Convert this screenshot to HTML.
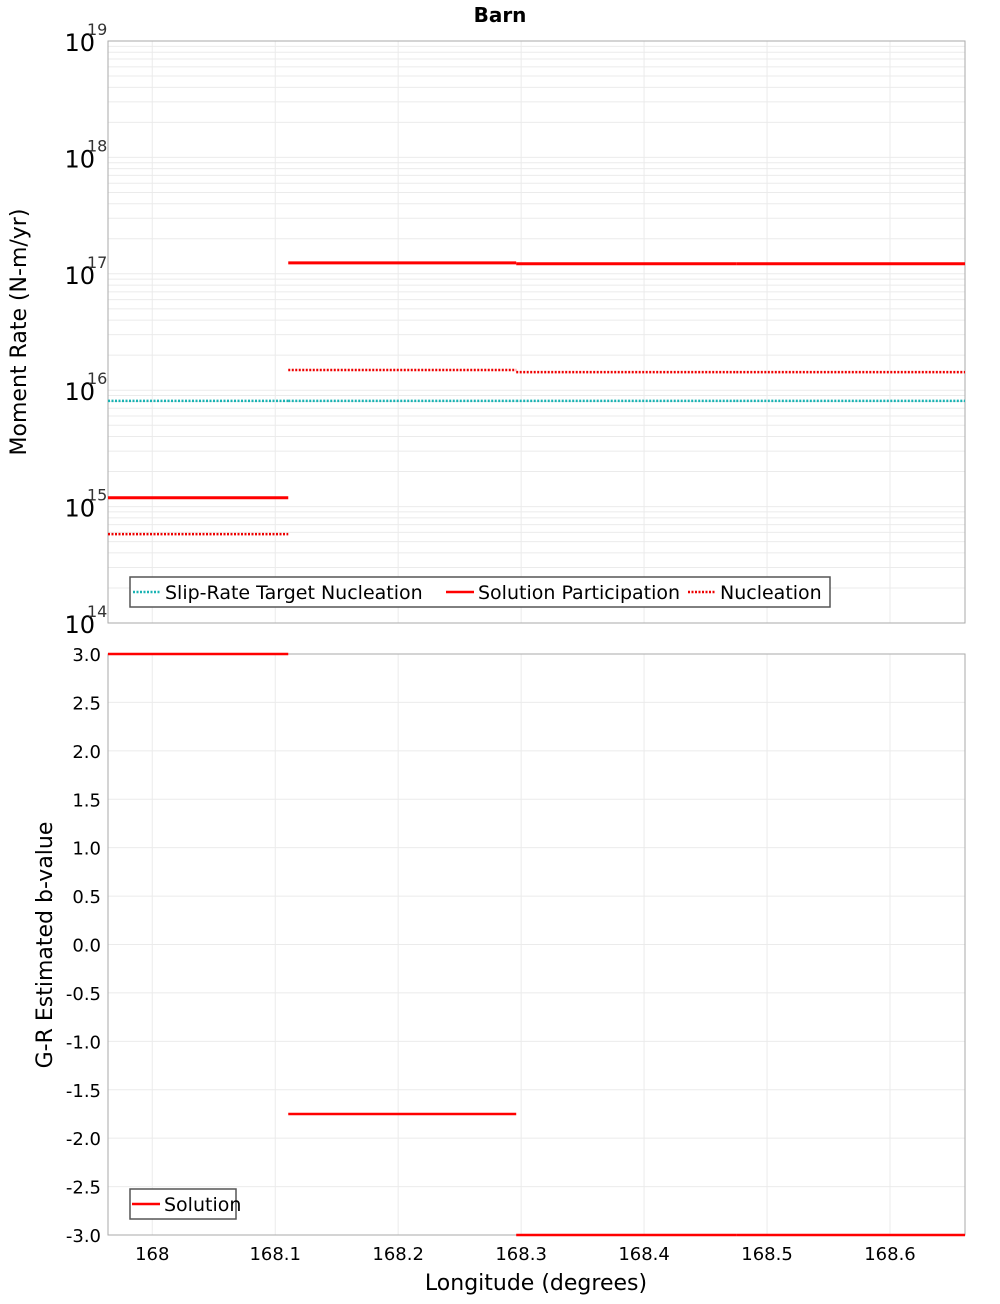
<!DOCTYPE html>
<html><head><meta charset="utf-8"><style>
body{margin:0;background:#fff;font-family:"DejaVu Sans","Liberation Sans",sans-serif;}
</style></head><body>
<svg id="chart" width="1000" height="1300" xmlns="http://www.w3.org/2000/svg" font-family="DejaVu Sans, Liberation Sans, sans-serif">
<text x="500" y="22" text-anchor="middle" font-size="20" font-weight="bold">Barn</text>
<g id="topPlot"></g>
<g id="botPlot"></g>
<text transform="translate(26,332) rotate(-90)" text-anchor="middle" font-size="22">Moment Rate (N-m/yr)</text>
<text transform="translate(52,945) rotate(-90)" text-anchor="middle" font-size="22">G-R Estimated b-value</text>
<text x="536" y="1290" text-anchor="middle" font-size="22">Longitude (degrees)</text>
</svg>
<script>
const segBounds = [167.964, 168.1106, 168.296, 168.475, 168.661];
const participation = [1.19e15, 1.24e17, 1.22e17, 1.22e17];
const nucleation = [5.8e14, 1.49e16, 1.43e16, 1.43e16];
const targetNucleation = [8.1e15, 8.1e15, 8.1e15, 8.1e15];
const bValues = [3.0, -1.75, -3.0, -3.0];
const xTicks = [168, 168.1, 168.2, 168.3, 168.4, 168.5, 168.6];
const xTickLabels = ["168","168.1","168.2","168.3","168.4","168.5","168.6"];
const logTicks = [14,15,16,17,18,19];
const bTicks = [3.0,2.5,2.0,1.5,1.0,0.5,0.0,-0.5,-1.0,-1.5,-2.0,-2.5,-3.0];

const NS="http://www.w3.org/2000/svg";
const L=108,R=965,T1=41,B1=623,T2=654,B2=1235;
const xmin=167.964,xmax=168.661;
const X=v=>L+(v-xmin)/(xmax-xmin)*(R-L);
const Y1=v=>B1-(Math.log10(v)-14)/5*(B1-T1);
const Y2=v=>B2-(v+3)/6*(B2-T2);
function mk(p,tag,a){const e=document.createElementNS(NS,tag);for(const k in a)e.setAttribute(k,a[k]);p.appendChild(e);return e;}
const gTop=document.getElementById('topPlot'),gBot=document.getElementById('botPlot');
for(let d=14;d<19;d++)for(let m=1;m<10;m++){const y=Y1(m*Math.pow(10,d));const g=mk(gTop,'line',{x1:L,x2:R,y1:y,y2:y,stroke:'#ebebeb','stroke-width':1});

}
for(const t of xTicks){for(const [p,a,b] of [[gTop,T1,B1],[gBot,T2,B2]]){const g=mk(p,'line',{x1:X(t),x2:X(t),y1:a,y2:b,stroke:'#ebebeb'});

}}
for(const t of bTicks){const g=mk(gBot,'line',{x1:L,x2:R,y1:Y2(t),y2:Y2(t),stroke:'#ebebeb'});

}
let f=mk(gTop,'rect',{x:L,y:T1,width:R-L,height:B1-T1,fill:'none',stroke:'#aaa'});


f=mk(gBot,'rect',{x:L,y:T2,width:R-L,height:B2-T2,fill:'none',stroke:'#aaa'});


for(const d of logTicks){const t=mk(gTop,'text',{x:95,y:Y1(Math.pow(10,d))+10,'text-anchor':'end','font-size':24});t.textContent='10';


const s=mk(gTop,'text',{x:87,y:Y1(Math.pow(10,d))-6,'font-size':16,fill:'#333'});s.textContent=String(d);

}
for(const v of bTicks){const t=mk(gBot,'text',{x:101,y:Y2(v)+7,'text-anchor':'end','font-size':18});t.textContent=v.toFixed(1);

}
xTicks.forEach((v,i)=>{const t=mk(gBot,'text',{x:X(v),y:1260,'text-anchor':'middle','font-size':18});t.textContent=xTickLabels[i];

});
function series(p,vals,Y,color,dash,w,name){for(let i=0;i<vals.length;i++){const y=Y(vals[i]);const a={x1:X(segBounds[i]),x2:X(segBounds[i+1]),y1:y,y2:y,stroke:color,'stroke-width':w};if(dash)a['stroke-dasharray']=dash;const l=mk(p,'line',a);

}}
series(gTop,targetNucleation,Y1,'#19b3b3','2,1.5',2.5,'target-nucleation-segment');
series(gTop,nucleation,Y1,'#e00','2,1.5',2.5,'nucleation-segment');
series(gTop,participation,Y1,'#f00',null,3,'participation-segment');
series(gBot,bValues,Y2,'#f00',null,2.5,'b-value-segment');
function legend(p,x,y,w,items){const r=mk(p,'rect',{x:x,y:y,width:w,height:30,fill:'#fff',stroke:'#555','stroke-width':1.5});


for(const it of items){const a={x1:it[0],x2:it[0]+28,y1:y+15,y2:y+15,stroke:it[2],'stroke-width':2.5};if(it[3])a['stroke-dasharray']='2,1.5';const l=mk(p,'line',a);


const t=mk(p,'text',{x:it[0]+32,y:y+22,'font-size':19});t.textContent=it[1];

}}
legend(gTop,130,577,700,[[133,'Slip-Rate Target Nucleation','#19b3b3',1],[446,'Solution Participation','#f00',0],[688,'Nucleation','#e00',1]]);
legend(gBot,130,1189,106,[[132,'Solution','#f00',0]]);
</script>
</body></html>
